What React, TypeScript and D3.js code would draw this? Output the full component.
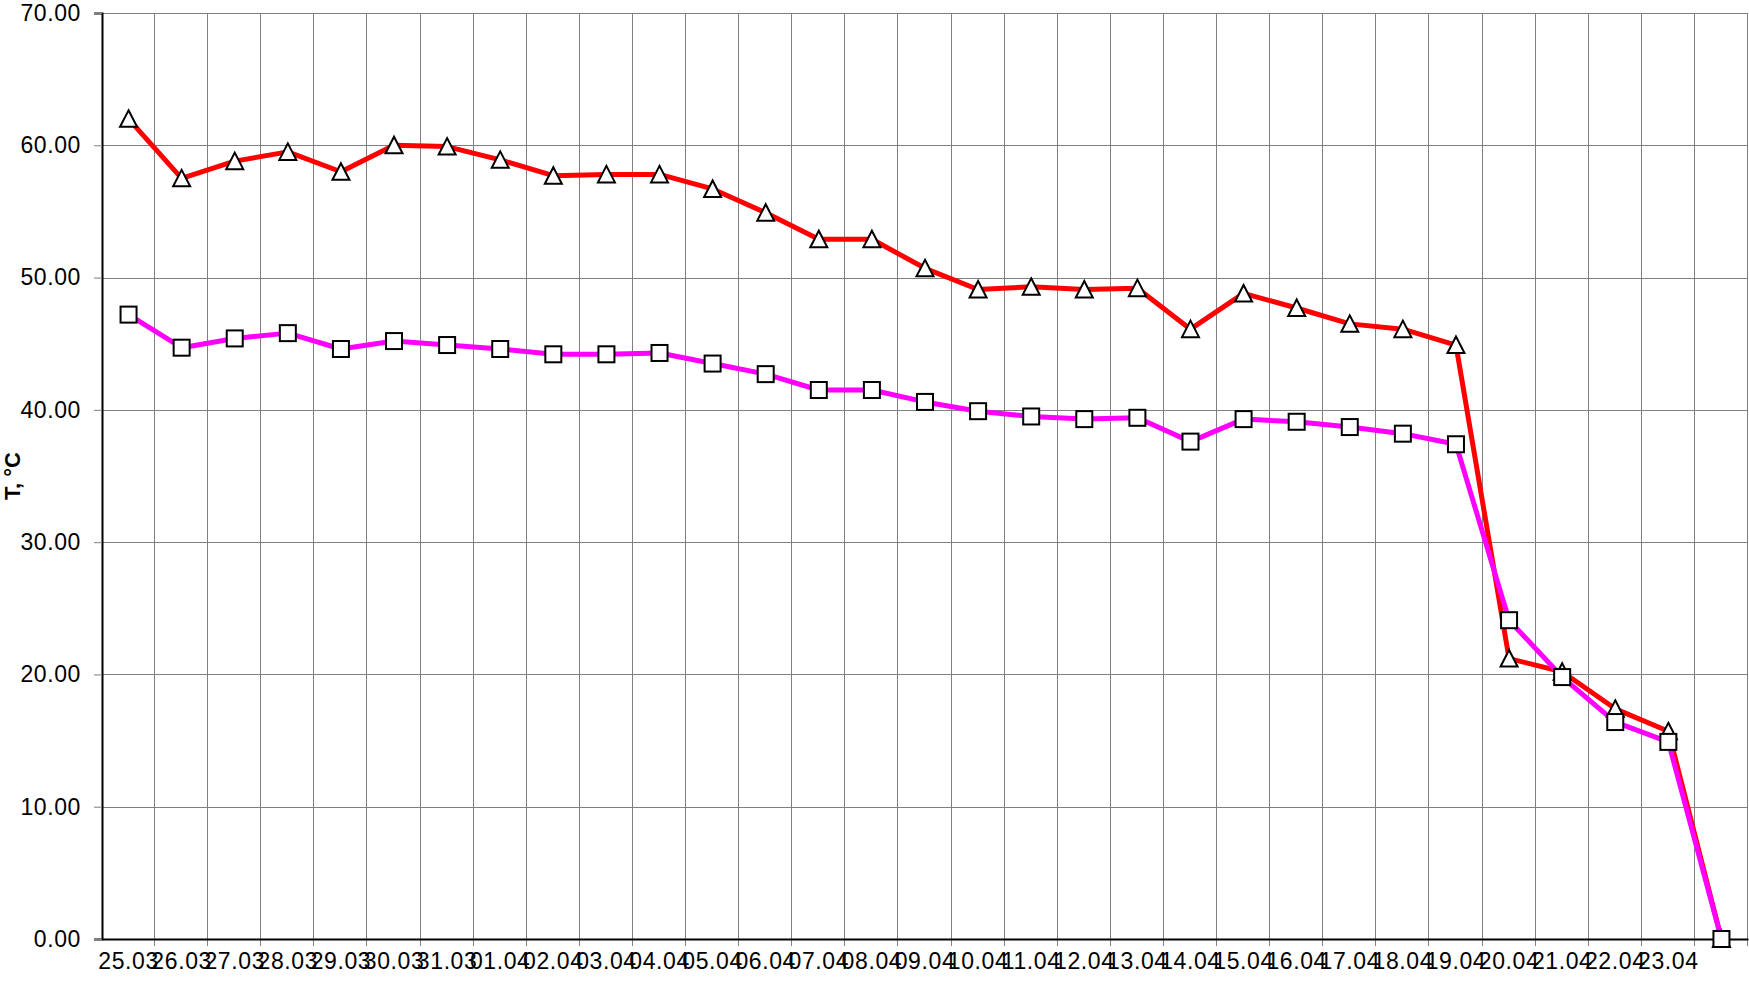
import React, { useEffect, useRef } from 'react';
import * as d3 from 'd3';

// dates on the category axis (last category has no label)
const dates = [
  '25.03', '26.03', '27.03', '28.03', '29.03', '30.03', '31.03',
  '01.04', '02.04', '03.04', '04.04', '05.04', '06.04', '07.04', '08.04',
  '09.04', '10.04', '11.04', '12.04', '13.04', '14.04', '15.04', '16.04',
  '17.04', '18.04', '19.04', '20.04', '21.04', '22.04', '23.04', '',
];

// red line, triangle markers
const tUpper = [
  62.0, 57.5, 58.8, 59.5, 58.0, 60.0, 59.9, 58.9, 57.7, 57.8, 57.8,
  56.7, 54.9, 52.9, 52.9, 50.7, 49.1, 49.3, 49.1, 49.2, 46.1, 48.8,
  47.7, 46.5, 46.1, 44.9, 21.2, 20.2, 17.4, 15.7, 0.0,
];

// magenta line, square markers
const tLower = [
  47.2, 44.7, 45.4, 45.8, 44.6, 45.2, 44.9, 44.6, 44.2, 44.2, 44.3,
  43.5, 42.7, 41.5, 41.5, 40.6, 39.9, 39.5, 39.3, 39.4, 37.6, 39.3,
  39.1, 38.7, 38.2, 37.4, 24.1, 19.8, 16.4, 14.9, 0.0,
];

const yTicks = [0, 10, 20, 30, 40, 50, 60, 70];

const App = () => {
  const svgRef = useRef<SVGSVGElement>(null);

  useEffect(() => {
    const w = 1749;
    const h = 985;
    const left = 102;
    const right = 1748;
    const top = 13;
    const bottom = 939;
    const font = '"Liberation Sans", Arial, sans-serif';

    const svg = d3.select(svgRef.current).attr('width', w).attr('height', h);
    svg.selectAll('*').remove();

    const idx = dates.map((d, i) => String(i));
    const x = d3.scaleBand().domain(idx).range([left, right]).padding(0);
    const y = d3.scaleLinear().domain([0, 70]).range([bottom, top]);
    const cx = (i: number) => (x(String(i)) as number) + x.bandwidth() / 2;

    // horizontal gridlines
    svg.append('g')
      .selectAll('line')
      .data(yTicks.filter(t => t > 0))
      .join('line')
      .attr('x1', left)
      .attr('x2', right)
      .attr('y1', d => Math.round(y(d)) + 0.5)
      .attr('y2', d => Math.round(y(d)) + 0.5)
      .attr('stroke', '#808080')
      .attr('stroke-width', 1);

    // vertical gridlines at category boundaries, running down as ticks
    const bounds = d3.range(1, dates.length + 1).map(i => left + x.step() * i);
    svg.append('g')
      .selectAll('line')
      .data(bounds)
      .join('line')
      .attr('x1', d => Math.round(d) - 0.5)
      .attr('x2', d => Math.round(d) - 0.5)
      .attr('y1', top)
      .attr('y2', bottom + 7)
      .attr('stroke', '#808080')
      .attr('stroke-width', 1);

    // y axis
    const yAxis = d3.axisLeft(y)
      .tickValues(yTicks)
      .tickFormat(d3.format('.2f'))
      .tickSize(8)
      .tickPadding(13);
    const gy = svg.append('g').attr('transform', `translate(${left},0)`).call(yAxis);
    gy.select('.domain').attr('stroke', '#000').attr('stroke-width', 2);
    gy.selectAll('.tick line').attr('stroke', '#808080');
    gy.selectAll('.tick text')
      .attr('font-family', font)
      .attr('font-size', 23)
      .attr('letter-spacing', 0.6)
      .attr('fill', '#000');

    // x axis labels
    const xAxis = d3.axisBottom(x)
      .tickFormat(d => dates[+d])
      .tickSize(0)
      .tickPadding(14);
    const gx = svg.append('g').attr('transform', `translate(0,${bottom})`).call(xAxis);
    gx.select('.domain').attr('stroke', '#000').attr('stroke-width', 2);
    gx.selectAll('.tick text')
      .attr('font-family', font)
      .attr('font-size', 23)
      .attr('letter-spacing', 0.6)
      .attr('fill', '#000');

    // axis title
    svg.append('text')
      .attr('transform', `translate(20,${(top + bottom) / 2}) rotate(-90)`)
      .attr('text-anchor', 'middle')
      .attr('font-family', font)
      .attr('font-size', 22)
      .attr('font-weight', 'bold')
      .text('T, °C');

    const line = d3.line<number>()
      .x((d, i) => cx(i))
      .y(d => y(d));

    // red series with triangles
    svg.append('path')
      .attr('d', line(tUpper))
      .attr('fill', 'none')
      .attr('stroke', '#ff0000')
      .attr('stroke-width', 5)
      .attr('stroke-linejoin', 'round');
    svg.append('g')
      .selectAll('path')
      .data(tUpper)
      .join('path')
      .attr('transform', (d, i) => `translate(${cx(i)},${y(d)})`)
      .attr('d', 'M0,-8.5L8.5,8L-8.5,8Z')
      .attr('fill', '#fff')
      .attr('stroke', '#000')
      .attr('stroke-width', 2);

    // magenta series with squares
    svg.append('path')
      .attr('d', line(tLower))
      .attr('fill', 'none')
      .attr('stroke', '#ff00ff')
      .attr('stroke-width', 5)
      .attr('stroke-linejoin', 'round');
    svg.append('g')
      .selectAll('rect')
      .data(tLower)
      .join('rect')
      .attr('x', (d, i) => cx(i) - 8)
      .attr('y', d => y(d) - 8)
      .attr('width', 16)
      .attr('height', 16)
      .attr('fill', '#fff')
      .attr('stroke', '#000')
      .attr('stroke-width', 2);
  }, []);

  return (
    <svg ref={svgRef} style={{ position: 'absolute', left: 0, top: 0 }}></svg>
  );
};

export default App;
